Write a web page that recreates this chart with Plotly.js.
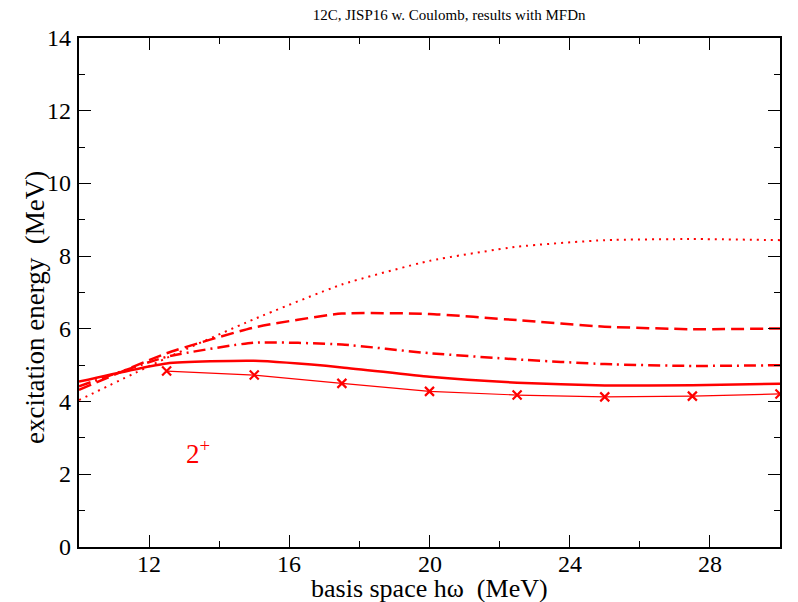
<!DOCTYPE html>
<html>
<head>
<meta charset="utf-8">
<script src="https://cdn.plot.ly/plotly-3.0.1.min.js"></script>
<style>
html,body{margin:0;padding:0;background:#fff;}
#chart{width:798px;height:602px;}
</style>
</head>
<body>
<div id="chart"></div>
<script>
// basis space hw (MeV)
const hw = [10, 12.5, 15, 17.5, 20, 22.5, 25, 27.5, 30];
const hwMarked = [12.5, 15, 17.5, 20, 22.5, 25, 27.5, 30];
// excitation energies (MeV)
const solidSeries   = [4.55, 5.05, 5.12, 4.94, 4.68, 4.52, 4.44, 4.45, 4.49];
const dashDotSeries = [4.42, 5.23, 5.62, 5.57, 5.33, 5.16, 5.03, 4.98, 5.00];
const dashedSeries  = [4.32, 5.33, 6.04, 6.42, 6.41, 6.24, 6.06, 5.99, 6.01];
const dottedSeries  = [4.04, 5.20, 6.27, 7.22, 7.87, 8.26, 8.44, 8.47, 8.44];
const markedSeries  = [4.84, 4.73, 4.50, 4.28, 4.18, 4.13, 4.15, 4.21];
// tick labels
const xTickLabels = [12, 16, 20, 24, 28];
const yTickLabels = [0, 2, 4, 6, 8, 10, 12, 14];

const RED = '#ff0000';
const FONT = 'Liberation Serif, Times New Roman, serif';
const TICKFONT = 'Liberation Serif';

const traces = [
  {x: hw, y: dottedSeries, mode: 'lines', line: {color: RED, width: 2, dash: '2px,5px', shape: 'spline', smoothing: 0.5}},
  {x: hw, y: dashedSeries, mode: 'lines', line: {color: RED, width: 2.5, dash: '13px,6px', shape: 'spline', smoothing: 0.5}},
  {x: hw, y: dashDotSeries, mode: 'lines', line: {color: RED, width: 2.5, dash: '12px,5px,2px,5px', shape: 'spline', smoothing: 0.5}},
  {x: hw, y: solidSeries, mode: 'lines', line: {color: RED, width: 2.5, shape: 'spline', smoothing: 0.5}},
  {x: hwMarked, y: markedSeries, mode: 'lines+markers', line: {color: RED, width: 1.2},
   marker: {symbol: 'x-thin', size: 9, color: RED, line: {color: RED, width: 2.2}}}
];

function axis(extra) {
  return Object.assign({
    showgrid: false, zeroline: false, showline: true, linecolor: '#000', linewidth: 1.5,
    mirror: 'allticks', ticks: 'inside', ticklen: 12, tickwidth: 1.2, tickcolor: '#000',
    showticklabels: false
  }, extra);
}

const annotations = [];
xTickLabels.forEach(function(v){
  annotations.push({x: v, y: 0, xref: 'x', yref: 'paper', xanchor: 'center', yanchor: 'top',
    yshift: -6, height: 20, valign: 'middle', borderpad: 0, text: String(v), showarrow: false,
    font: {family: TICKFONT, size: 24, color: '#000'}});
});
yTickLabels.forEach(function(v){
  annotations.push({x: 0, y: v, xref: 'paper', yref: 'y', xanchor: 'right', yanchor: 'middle',
    xshift: -7, borderpad: 0, text: String(v), showarrow: false,
    font: {family: TICKFONT, size: 24, color: '#000'}});
});
annotations.push(
  {x: 0.5, y: -0.081, xref: 'paper', yref: 'paper', xanchor: 'center', yanchor: 'middle',
   text: 'basis space hω \u00a0(MeV)', showarrow: false, font: {family: FONT, size: 26, color: '#000'}},
  {x: 0, xshift: -44, y: 0.4695, xref: 'paper', yref: 'paper', xanchor: 'center', yanchor: 'middle',
   textangle: -90, text: 'excitation energy \u00a0(MeV)', showarrow: false,
   font: {family: FONT, size: 27, color: '#000'}},
  {x: 13.4, y: 2.6, xref: 'x', yref: 'y', text: '2<sup>+</sup>', showarrow: false,
   font: {family: FONT, size: 27, color: RED}}
);

const layout = {
  width: 798, height: 602,
  margin: {l: 79, r: 18, t: 38, b: 55},
  paper_bgcolor: '#fff', plot_bgcolor: '#fff',
  showlegend: false,
  font: {family: FONT, color: '#000'},
  title: {text: '12C, JISP16 w. Coulomb, results with MFDn', font: {family: FONT, size: 15, color: '#000'},
          x: 0.528, xref: 'paper', xanchor: 'center', y: 0.975, yref: 'container', yanchor: 'middle'},
  xaxis: axis({
    range: [10, 30], tick0: 0, dtick: 4,
    minor: {dtick: 2, ticks: 'inside', ticklen: 6, tickwidth: 1.2, tickcolor: '#000'}
  }),
  yaxis: axis({
    range: [0, 14], tick0: 0, dtick: 2,
    minor: {dtick: 1, ticks: 'inside', ticklen: 6, tickwidth: 1.2, tickcolor: '#000'}
  }),
  annotations: annotations
};

Plotly.newPlot('chart', traces, layout, {displayModeBar: false});
</script>
</body>
</html>
